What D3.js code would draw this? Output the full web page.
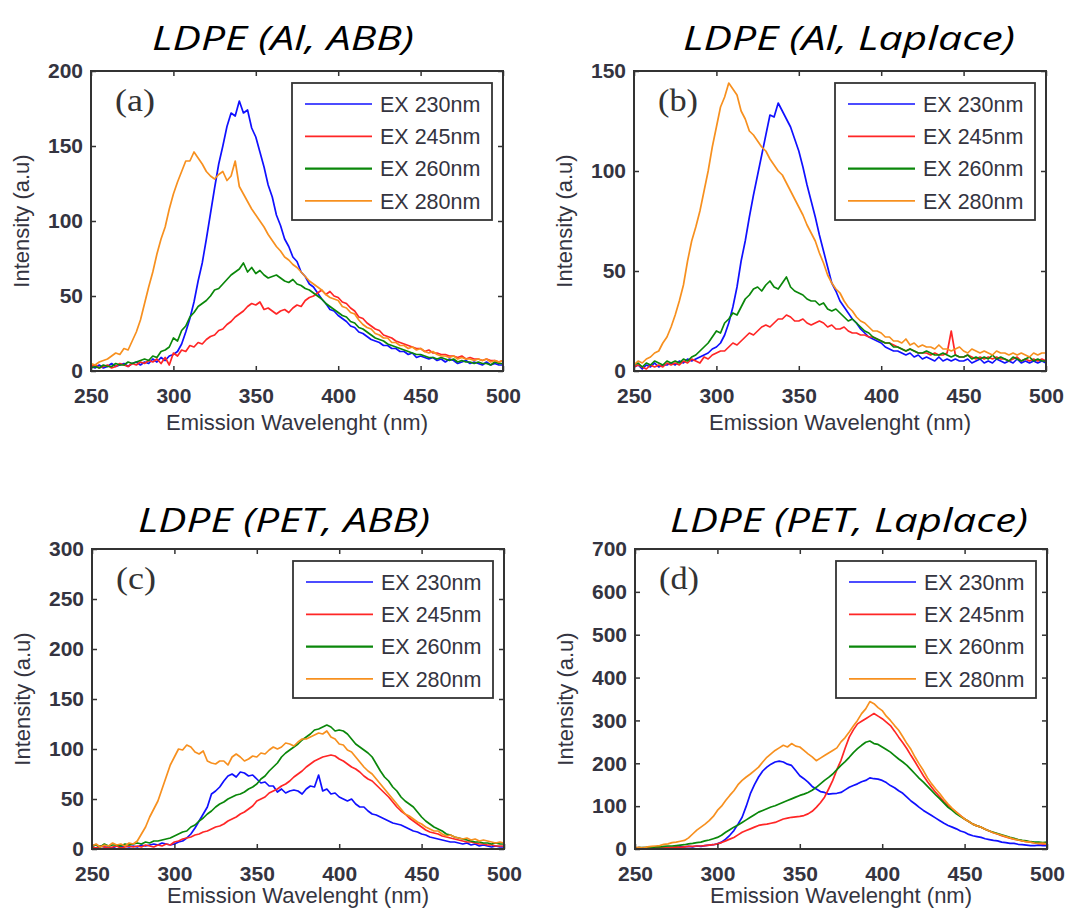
<!DOCTYPE html>
<html><head><meta charset="utf-8">
<script src="https://cdn.jsdelivr.net/npm/d3@7"></script>
<style>body{margin:0;background:#fff;overflow:hidden}</style>
</head><body><svg id="chart" width="1089" height="909"></svg>
<script>
// ---------- DATA ----------
const wavelengths = [
250,252.5,255,257.5,260,262.5,265,267.5,270,272.5,
275,277.5,280,282.5,285,287.5,290,292.5,295,297.5,
300,302.5,305,307.5,310,312.5,315,317.5,320,322.5,
325,327.5,330,332.5,335,337.5,340,342.5,345,347.5,
350,352.5,355,357.5,360,362.5,365,367.5,370,372.5,
375,377.5,380,382.5,385,387.5,390,392.5,395,397.5,
400,402.5,405,407.5,410,412.5,415,417.5,420,422.5,
425,427.5,430,432.5,435,437.5,440,442.5,445,447.5,
450,452.5,455,457.5,460,462.5,465,467.5,470,472.5,
475,477.5,480,482.5,485,487.5,490,492.5,495,497.5,
500];
const seriesLabels = ["EX 230nm","EX 245nm","EX 260nm","EX 280nm"];
const seriesColors = ["#1010ff","#ff2626","#0a870a","#f7901f"];
const panelTitles = ["LDPE (Al, ABB)","LDPE (Al, Laplace)","LDPE (PET, ABB)","LDPE (PET, Laplace)"];
const panelTags = ["(a)","(b)","(c)","(d)"];
const xTicks = [250,300,350,400,450,500];
const yTicksA = [0,50,100,150,200];
const yTicksB = [0,50,100,150];
const yTicksC = [0,50,100,150,200,250,300];
const yTicksD = [0,100,200,300,400,500,600,700];
const xLabel = "Emission Wavelenght (nm)";
const yLabel = "Intensity (a.u)";

// Panel (a) LDPE (Al, ABB)
const aBlue = [3,2,4,2,3,5,3,4,5,3, 5,6,4,6,5,8,6,9,7,10, 11,13,18,26,35,46,60,72,88,105, 122,138,150,163,172,170,180,172,174,162, 156,146,136,124,116,104,97,88,83,76, 73,66,63,58,56,52,48,45,41,40, 37,35,33,30,29,26,25,23,21,20, 19,17,17,15,15,13,13,11,12,9, 10,9,8,9,7,8,6,8,7,5, 6,7,5,6,5,4,6,4,5,4, 4];
const aRed = [3,4,2,3,4,2,3,5,4,3, 5,4,6,5,7,6,8,5,9,4, 12,10,14,13,17,16,19,18,21,23, 24,27,28,31,33,36,38,40,43,45, 44,46,41,42,40,38,40,41,39,42, 44,43,47,49,50,52,54,51,53,50, 49,46,45,42,40,36,35,32,30,28, 27,24,23,22,20,19,18,17,16,15, 15,13,14,12,12,11,11,10,10,9, 10,8,9,8,8,7,8,7,7,6, 7];
const aGreen = [2,3,2,4,3,3,5,4,4,6, 5,6,7,8,7,10,9,13,14,16, 22,20,27,30,36,39,43,45,47,50, 54,55,58,61,64,66,68,72,66,69, 65,67,64,62,63,64,62,60,59,61, 58,57,55,54,52,50,48,45,43,41, 39,37,36,33,32,29,28,26,24,22, 21,20,18,17,16,15,14,13,12,11, 11,10,9,9,8,9,8,7,8,6, 7,6,6,5,6,5,5,4,6,5, 5];
const aOrange = [5,4,6,7,8,10,12,11,15,14, 20,26,34,45,56,66,78,88,96,108, 118,126,133,140,140,146,142,138,133,130, 128,131,133,127,130,140,123,118,113,108, 104,100,96,91,87,83,80,76,74,71, 69,66,63,60,58,56,54,51,49,48, 47,43,42,39,38,34,31,29,28,25, 24,22,22,19,19,17,17,15,16,14, 15,13,12,13,11,10,10,9,10,8, 9,8,8,7,8,7,8,6,7,6, 7];

// Panel (b) LDPE (Al, Laplace)
const bBlue = [2,3,1,3,2,4,2,3,3,4, 3,5,4,6,5,6,7,8,9,11, 12,14,18,24,32,42,55,65,77,88, 98,108,118,128,127,134,130,126,122,116, 110,102,93,85,77,68,60,52,44,40, 35,32,29,26,24,21,19,17,16,15, 14,12,11,10,10,9,8,9,7,8, 6,7,6,5,7,5,6,5,6,5, 5,6,4,5,6,4,5,4,6,5, 4,5,4,6,4,5,4,5,4,5, 4];
const bRed = [2,3,2,1,3,2,3,2,4,3, 4,3,5,4,6,5,4,7,6,8, 9,10,10,12,14,13,15,17,19,18, 20,22,23,22,24,26,26,28,27,25, 25,26,24,23,24,25,24,22,23,21, 21,22,20,19,19,18,18,17,17,16, 15,14,14,13,12,11,10,11,10,9, 9,9,8,9,8,8,9,20,8,7, 7,8,7,6,7,6,7,6,7,6, 6,5,6,7,5,6,5,6,5,6, 5];
const bGreen = [3,4,2,4,3,5,4,3,5,4, 5,4,6,5,7,8,10,12,14,17, 20,19,24,26,29,28,32,36,38,41, 42,40,43,45,42,41,44,47,42,40, 39,38,36,35,35,33,34,31,30,31, 29,27,25,26,24,22,20,19,17,16, 15,14,14,12,12,11,10,11,10,9, 9,10,9,8,8,9,8,7,8,7, 7,8,6,7,6,7,6,8,6,7, 6,5,7,6,5,6,7,5,6,5, 5];
const bOrange = [3,5,4,6,7,9,10,14,17,22, 28,35,43,55,65,72,80,90,100,112, 122,132,137,144,141,138,130,126,120,118, 115,112,110,106,103,100,98,94,90,86, 82,78,73,69,65,59,54,48,44,41, 39,35,32,30,27,25,24,22,20,20, 19,17,17,15,15,14,16,13,14,12, 13,12,12,11,13,11,11,10,11,12, 10,9,11,10,9,10,9,8,10,9, 9,8,9,8,9,8,7,9,8,9, 9];

// Panel (c) LDPE (PET, ABB)
const cBlue = [2,1,3,2,2,1,3,2,3,2, 3,2,4,3,4,5,4,6,5,4, 5,7,8,11,15,21,28,35,42,55, 58,62,68,73,75,72,77,76,73,74, 70,66,67,63,63,57,60,56,58,59, 58,55,60,63,62,74,58,60,55,56, 52,50,48,50,45,42,42,38,35,34, 32,30,28,26,25,24,22,20,18,17, 15,14,12,11,10,9,8,7,7,6, 5,6,4,5,3,4,3,2,3,2, 2];
const cRed = [2,1,3,2,1,2,3,1,2,3, 2,3,2,4,3,2,4,3,5,4, 7,8,10,11,12,14,15,17,18,20, 22,23,25,28,30,32,35,37,40,43, 48,50,52,56,58,60,63,65,68,72, 75,78,82,85,88,90,92,93,94,93, 90,88,85,82,80,77,73,70,68,64, 60,56,52,47,42,38,35,31,28,25, 22,19,17,16,15,13,12,11,10,9, 8,7,7,6,5,5,4,4,3,3, 3];
const cGreen = [3,4,2,5,3,4,4,3,5,4, 5,6,5,7,6,8,8,9,10,11, 13,15,17,18,22,24,28,31,35,38, 42,45,47,50,52,54,55,57,60,62, 65,70,73,78,82,86,92,96,99,102, 105,109,112,115,119,120,122,124,122,118, 119,118,115,110,105,102,99,96,92,85, 78,72,68,62,58,52,48,45,42,37, 32,28,25,22,20,18,15,14,12,11, 10,9,8,7,7,6,6,5,6,5, 5];
const cOrange = [3,5,2,4,3,6,4,5,3,6, 5,8,15,22,32,40,48,60,72,84, 92,100,99,104,102,97,95,98,88,86, 85,88,88,84,92,95,92,88,90,93, 92,96,95,99,102,100,102,106,105,103, 107,110,110,112,114,116,115,118,112,110, 105,104,99,97,92,87,82,78,75,70, 65,60,55,50,45,40,35,33,30,27, 25,22,20,18,18,15,13,14,12,11, 10,11,9,10,8,9,8,7,6,7, 6];

// Panel (d) LDPE (PET, Laplace)
const dBlue = [2,3,2,3,2,3,4,3,4,3, 4,5,5,6,5,7,6,8,9,10, 12,16,23,32,43,58,74,100,129,150, 168,182,191,198,203,205,203,198,195,183, 171,164,156,146,140,134,132,128,129,130, 132,138,144,148,152,157,160,166,164,163, 160,155,148,143,136,130,121,112,105,97, 90,84,78,72,66,60,55,51,47,42, 39,34,31,29,27,24,22,20,19,16, 15,13,13,11,10,9,8,8,9,8, 8];
const dRed = [2,2,3,2,3,3,4,3,4,4, 5,4,5,6,6,7,7,8,9,10, 12,15,19,23,27,33,39,43,47,51, 55,57,58,60,62,66,70,72,74,75, 76,78,82,88,97,108,121,140,160,185, 207,235,261,278,292,298,304,310,316,310, 304,296,288,275,261,248,234,218,203,187, 171,157,144,132,121,110,101,93,86,78, 70,64,58,54,51,46,42,38,35,31, 28,25,23,21,19,17,16,14,13,12, 12];
const dGreen = [2,3,3,4,3,5,5,6,7,7, 8,9,10,12,13,15,16,19,21,24, 27,32,39,45,51,56,62,68,74,80, 86,90,94,98,101,105,109,113,117,121, 125,128,132,137,144,152,160,167,175,185, 195,204,214,225,234,242,249,252,246,244, 238,232,226,218,210,203,195,185,175,165, 156,146,136,126,117,107,97,90,82,76, 70,64,58,54,51,46,42,39,36,33, 30,27,25,22,20,19,17,16,16,15, 16];
const dOrange = [3,4,2,5,6,7,8,11,12,15, 16,18,20,26,35,44,51,58,66,76, 90,100,113,125,136,150,160,168,175,183, 191,203,214,222,230,236,242,238,246,240, 238,230,222,215,206,212,218,224,230,236, 250,260,273,287,300,316,327,344,339,330, 323,310,300,288,277,262,246,232,214,198, 183,166,152,140,129,116,105,95,86,78, 70,64,58,54,51,46,42,38,35,32, 29,26,23,21,19,17,16,14,13,14, 12];

// ---------- LAYOUT ----------
const panels = [
  {title: panelTitles[0], tag: panelTags[0], series: [aBlue,aRed,aGreen,aOrange], yTicks: yTicksA,
   left: 91, top: 71, titleX: 283, titleY: 50, titleW: 262, xLabelDy: 59},
  {title: panelTitles[1], tag: panelTags[1], series: [bBlue,bRed,bGreen,bOrange], yTicks: yTicksB,
   left: 634, top: 71, titleX: 849, titleY: 50, titleW: 332, xLabelDy: 59},
  {title: panelTitles[2], tag: panelTags[2], series: [cBlue,cRed,cGreen,cOrange], yTicks: yTicksC,
   left: 92, top: 549, titleX: 284, titleY: 532, titleW: 292, xLabelDy: 54},
  {title: panelTitles[3], tag: panelTags[3], series: [dBlue,dRed,dGreen,dOrange], yTicks: yTicksD,
   left: 635, top: 549, titleX: 849, titleY: 532, titleW: 358, xLabelDy: 54}
];
const W = 412, H = 300;
const axisColor = "#333";
const textColor = "#343440";
const font = "'Liberation Sans', Arial, sans-serif";

const svg = d3.select("#chart");
svg.append("rect").attr("width",1089).attr("height",909).attr("fill","#fff");

panels.forEach(p => {
  const x = d3.scaleLinear().domain([xTicks[0], xTicks[xTicks.length-1]]).range([0, W]);
  const y = d3.scaleLinear().domain([0, p.yTicks[p.yTicks.length-1]]).range([H, 0]);

  // title
  svg.append("text")
    .attr("x", p.titleX).attr("y", p.titleY)
    .attr("text-anchor","middle")
    .attr("font-family","'Open Sans', 'DejaVu Sans', sans-serif")
    .attr("font-style","italic")
    .attr("font-size", 32)
    .attr("textLength", p.titleW).attr("lengthAdjust","spacingAndGlyphs")
    .attr("fill","#000")
    .text(p.title);

  const g = svg.append("g").attr("transform", `translate(${p.left},${p.top})`);

  const clipId = "clip" + p.tag.replace(/[()]/g,"");
  g.append("clipPath").attr("id", clipId).append("rect").attr("width", W).attr("height", H);

  // lines
  const line = d3.line().x((d,i) => x(wavelengths[i])).y(d => y(d));
  const lg = g.append("g").attr("clip-path", `url(#${clipId})`);
  p.series.forEach((s, k) => {
    lg.append("path").datum(s)
      .attr("d", line)
      .attr("fill","none")
      .attr("stroke", seriesColors[k])
      .attr("stroke-width", 1.7)
      .attr("stroke-linejoin","round");
  });

  // axes with inward ticks (all four sides)
  const tickStyle = sel => {
    sel.select(".domain").remove();
    sel.selectAll(".tick line").attr("stroke", axisColor).attr("stroke-width", 1.5);
    sel.selectAll(".tick text").attr("fill", textColor).attr("font-family", font)
      .attr("font-size", 21).attr("font-weight", "bold");
  };
  const xb = g.append("g").attr("transform", `translate(0,${H})`)
    .call(d3.axisBottom(x).tickValues(xTicks).tickSizeInner(-5).tickSizeOuter(0).tickPadding(12).tickFormat(d3.format("d")));
  tickStyle(xb);
  xb.selectAll(".tick text").attr("dy", "0.95em");
  const xt = g.append("g")
    .call(d3.axisTop(x).tickValues(xTicks).tickSizeInner(-5).tickSizeOuter(0).tickFormat(""));
  tickStyle(xt);
  const yl = g.append("g")
    .call(d3.axisLeft(y).tickValues(p.yTicks).tickSizeInner(-5).tickSizeOuter(0).tickPadding(8).tickFormat(d3.format("d")));
  tickStyle(yl);
  const yr = g.append("g").attr("transform", `translate(${W},0)`)
    .call(d3.axisRight(y).tickValues(p.yTicks).tickSizeInner(-5).tickSizeOuter(0).tickFormat(""));
  tickStyle(yr);

  // frame
  g.append("rect").attr("width", W).attr("height", H)
    .attr("fill","none").attr("stroke", axisColor).attr("stroke-width", 2);

  // axis labels
  g.append("text")
    .attr("x", W/2).attr("y", H + p.xLabelDy)
    .attr("text-anchor","middle")
    .attr("font-family", font).attr("font-size", 22).attr("fill", textColor)
    .text(xLabel);
  g.append("text")
    .attr("transform", `translate(${-62},${H/2}) rotate(-90)`)
    .attr("text-anchor","middle")
    .attr("font-family", font).attr("font-size", 22).attr("fill", textColor)
    .text(yLabel);

  // panel tag
  g.append("text")
    .attr("x", 24).attr("y", 40)
    .attr("font-family","'Liberation Serif', 'Times New Roman', serif")
    .attr("font-size", 31).attr("fill", "#333")
    .attr("textLength", 40).attr("lengthAdjust","spacingAndGlyphs")
    .text(p.tag);

  // legend
  const lgX = 201, lgY = 12, lgW = 200, lgH = 137, rowH = 32.3;
  const leg = g.append("g").attr("transform", `translate(${lgX},${lgY})`);
  leg.append("rect").attr("width", lgW).attr("height", lgH)
    .attr("fill","#fff").attr("stroke", axisColor).attr("stroke-width", 1.8);
  seriesLabels.forEach((lab, k) => {
    const cy = 21 + k * rowH;
    leg.append("line").attr("x1", 13).attr("x2", 80).attr("y1", cy).attr("y2", cy)
      .attr("stroke", seriesColors[k]).attr("stroke-width", k === 2 ? 2.4 : 1.7);
    leg.append("text").attr("x", 88).attr("y", cy).attr("dy","0.36em")
      .attr("font-family", font).attr("font-size", 21.5).attr("fill", textColor)
      .text(lab);
  });
});
</script>
</body></html>
